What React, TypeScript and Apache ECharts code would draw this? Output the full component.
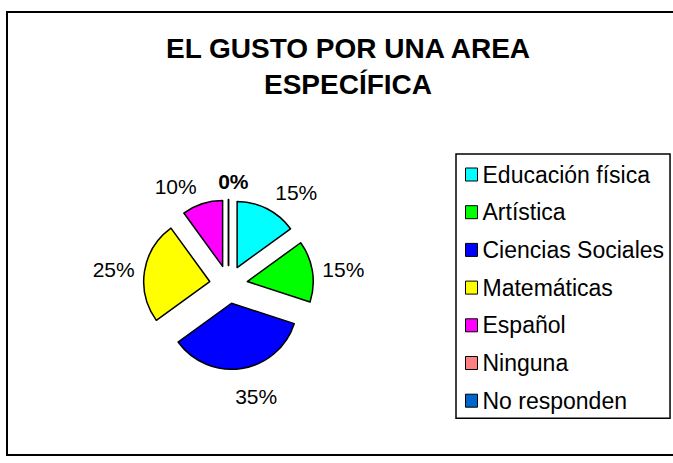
import React, { useEffect, useRef } from "react";
import * as echarts from "echarts";

const titleLines = ["EL GUSTO POR UNA AREA", "ESPECÍFICA"];
const categories = [
  "Educación física",
  "Artística",
  "Ciencias Sociales",
  "Matemáticas",
  "Español",
  "Ninguna",
  "No responden",
];
const values = [15, 15, 35, 25, 10, 0, 0];
const colors = ["#00FFFF", "#00FF00", "#0000FF", "#FFFF00", "#FF00FF", "#FF8080", "#0066CC"];

// label placement tweaks (style only)
const labelLineLengths = [18, 10, 28, 10, 18, 18, 18];
const labelDistances = [0, 0, -11, 0, 0, -20, 0];

const FONT = "'Liberation Sans', Arial, sans-serif";

export default function App() {
  const ref = useRef<HTMLDivElement>(null);
  useEffect(() => {
    if (!ref.current) return;
    const chart = echarts.init(ref.current, undefined, { renderer: "svg" });
    const data = categories.map((name, i) => {
      const item: any = {
        name,
        value: values[i],
        selected: true,
        itemStyle: { color: colors[i] },
        label: { distanceToLabelLine: labelDistances[i] },
        labelLine: { show: false, length: labelLineLengths[i], length2: 0 },
      };
      if (values[i] === 0) {
        if (i === categories.length - 1) {
          item.label = { show: false };
        } else {
          item.label = { fontWeight: "bold", distanceToLabelLine: labelDistances[i] };
        }
      }
      return item;
    });
    chart.setOption({
      animation: false,
      backgroundColor: "#ffffff",
      title: {
        text: titleLines.join("\n"),
        left: 348,
        top: 30,
        textAlign: "center",
        padding: 0,
        textStyle: {
          fontFamily: FONT,
          fontWeight: "bold",
          fontSize: 28,
          lineHeight: 36,
          color: "#000",
        },
      },
      legend: {
        orient: "vertical",
        left: 456,
        top: 154,
        padding: [9, 6, 6, 9],
        itemGap: 14.7,
        itemWidth: 12,
        itemHeight: 13,
        itemTextGap: 9,
        icon: "rect",
        selectedMode: false,
        borderColor: "#000",
        borderWidth: 1.5,
        borderRadius: 0,
        itemStyle: { borderColor: "#000", borderWidth: 1 },
        textStyle: { fontFamily: FONT, fontSize: 23, lineHeight: 22, color: "#000" },
        data: categories,
      },
      graphic: [
        {
          type: "polyline",
          shape: { points: [[673, 12], [7, 12], [7, 455], [673, 455]] },
          style: { fill: "none", stroke: "#000", lineWidth: 2 },
          silent: true,
        },
      ],
      series: [
        {
          type: "pie",
          center: [228.5, 284.5],
          radius: 66,
          startAngle: 90,
          clockwise: true,
          selectedMode: "multiple",
          selectedOffset: 19,
          avoidLabelOverlap: false,
          emphasis: { disabled: true },
          itemStyle: { borderColor: "#000", borderWidth: 1.5 },
          select: { itemStyle: { borderColor: "#000", borderWidth: 1.5 } },
          label: {
            show: true,
            position: "outside",
            formatter: "{d}%",
            fontFamily: FONT,
            fontSize: 21,
            color: "#000",
            distanceToLabelLine: 0,
          },
          labelLine: { show: false, length: 18, length2: 0 },
          data,
        },
      ],
    });
    return () => chart.dispose();
  }, []);
  return (
    <div
      ref={ref}
      style={{ position: "fixed", left: 0, top: 0, width: 673, height: 463 }}
    />
  );
}
